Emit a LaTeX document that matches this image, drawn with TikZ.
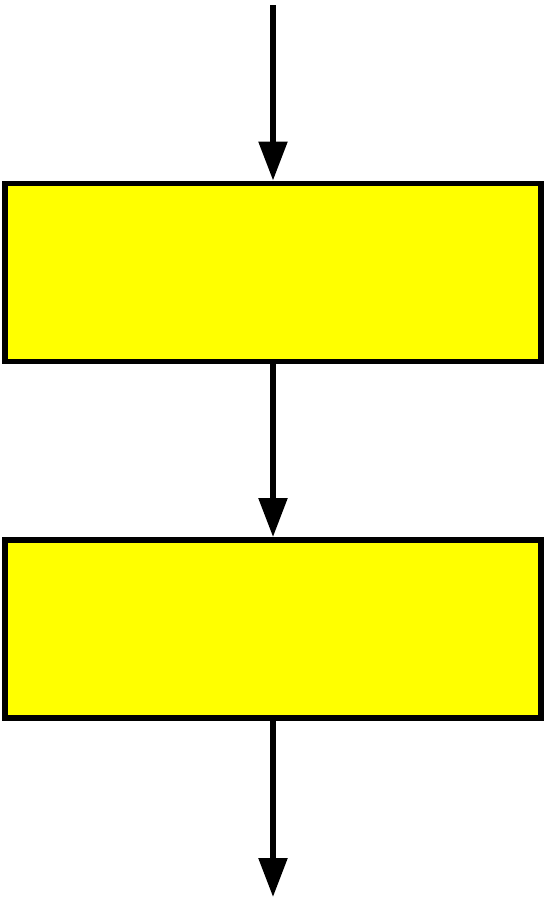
\documentclass[tikz,border=0pt]{standalone}
\usetikzlibrary{arrows.meta,positioning}
\definecolor{boxyellow}{RGB}{255,255,0}
\begin{document}
\begin{tikzpicture}[x=0.02cm, y=-0.02cm,
    stagebox/.style={draw=black, fill=boxyellow, line width=0.11cm, inner sep=0pt,
      minimum width=10.72cm, minimum height=3.57cm},
    flow/.style={line width=0.11cm, -{Triangle[width=0.56cm, length=0.78cm]}}]
        % Fixed frame
        \useasboundingbox (0,0) rectangle (544,899);
        % Boxes
        \node[stagebox] (first) at (273,272.5) {};
        \node[stagebox] (second) at (273,629) {};
        % Free ends
        \coordinate (in) at (273,5);
        \coordinate (out) at (273,897);
        % Arrows
        \draw[flow] (in) -- (first.north);
        \draw[flow] (first.south) -- (second.north);
        \draw[flow] (second.south) -- (out);
      \end{tikzpicture}
\end{document}
